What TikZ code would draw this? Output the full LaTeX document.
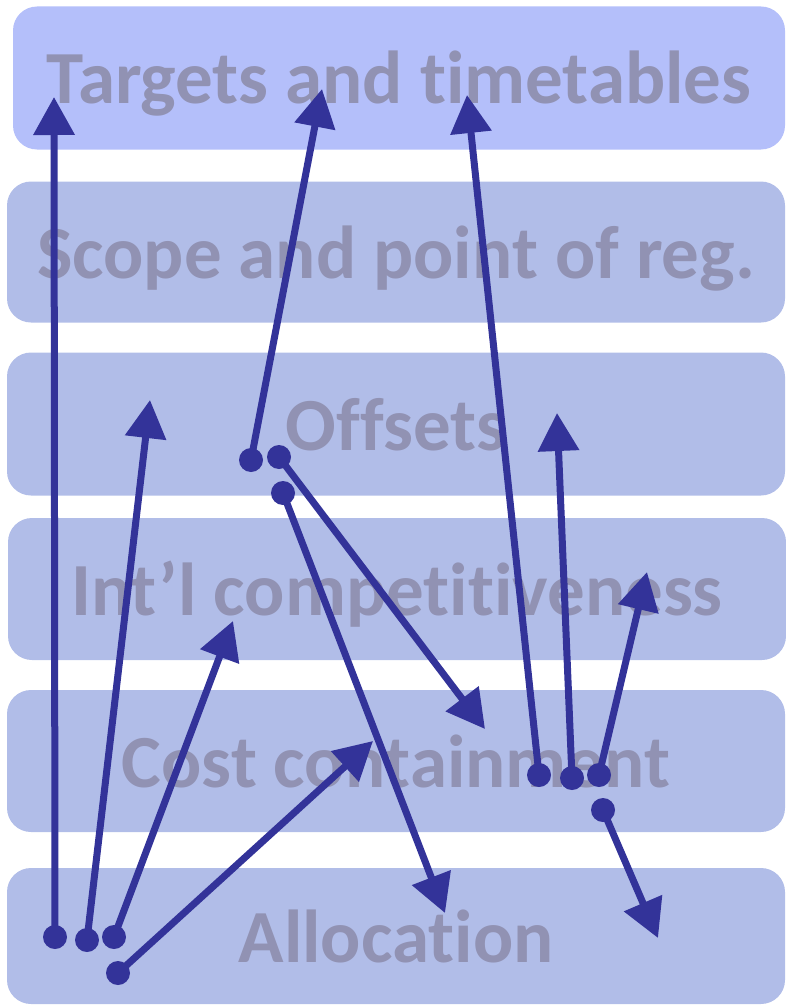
\documentclass[tikz,border=0pt]{standalone}
\usepackage{fontspec}
\setmainfont{Carlito}[Ligatures=NoCommon]
\usetikzlibrary{arrows.meta}

\definecolor{bandblue}{HTML}{B1BDE8}
\definecolor{topblue}{HTML}{B4BFFA}
\definecolor{labelgray}{HTML}{9192B3}
\definecolor{linkblue}{HTML}{333399}

\begin{document}
\begin{tikzpicture}[x=1pt, y=-1pt,
    band/.style={fill=bandblue, rounded corners=24pt, minimum width=778pt,
      minimum height=142pt, inner sep=0pt, text=labelgray,
      font=\fontsize{75}{82}\selectfont\bfseries, text height=52pt, text depth=0pt},
    dot/.style={circle, fill=linkblue, minimum size=24pt, inner sep=0pt},
    link/.style={linkblue, line width=7pt, -{Triangle[length=38pt, width=40pt]}}]

    \useasboundingbox (0,0) rectangle (785,1006);

    % Bands
    \node[band, fill=topblue, minimum width=772pt, minimum height=143pt] (targets) at (399,78) {Targets and timetables};
    \node[band, minimum height=141pt] (scope) at (396,252) {Scope and point of reg.};
    \node[band, minimum height=143pt] (offsets) at (396,424) {Offsets};
    \node[band] (intl) at (397,589) {Int’l competitiveness};
    \node[band] (cost) at (396,761) {Cost containment};
    \node[band, minimum height=136pt] (alloc) at (396,936) {Allocation};

    % Arrow tips
    \coordinate (t1) at (54,97);
    \coordinate (t2) at (150,400);
    \coordinate (t3) at (233,621);
    \coordinate (t4) at (373,741);
    \coordinate (t5) at (322,89);
    \coordinate (t6) at (485,729);
    \coordinate (t7) at (445,913);
    \coordinate (t8) at (467,95);
    \coordinate (t9) at (557,413);
    \coordinate (t10) at (647,572);
    \coordinate (t11) at (658,938);

    % Start dots
    \node[dot] (d1) at (55,937) {};
    \node[dot] (d2) at (87,940) {};
    \node[dot] (d3) at (114,937) {};
    \node[dot] (d4) at (118,973) {};
    \node[dot] (d5) at (251,460) {};
    \node[dot] (d6) at (279,457) {};
    \node[dot] (d7) at (283,493) {};
    \node[dot] (d8) at (539,775) {};
    \node[dot] (d9) at (572,778) {};
    \node[dot] (d10) at (599,775) {};
    \node[dot] (d11) at (603,810) {};

    % Links
    \foreach \i in {1,...,11}
      \draw[link] (d\i.center) -- (t\i);

\end{tikzpicture}
\end{document}
